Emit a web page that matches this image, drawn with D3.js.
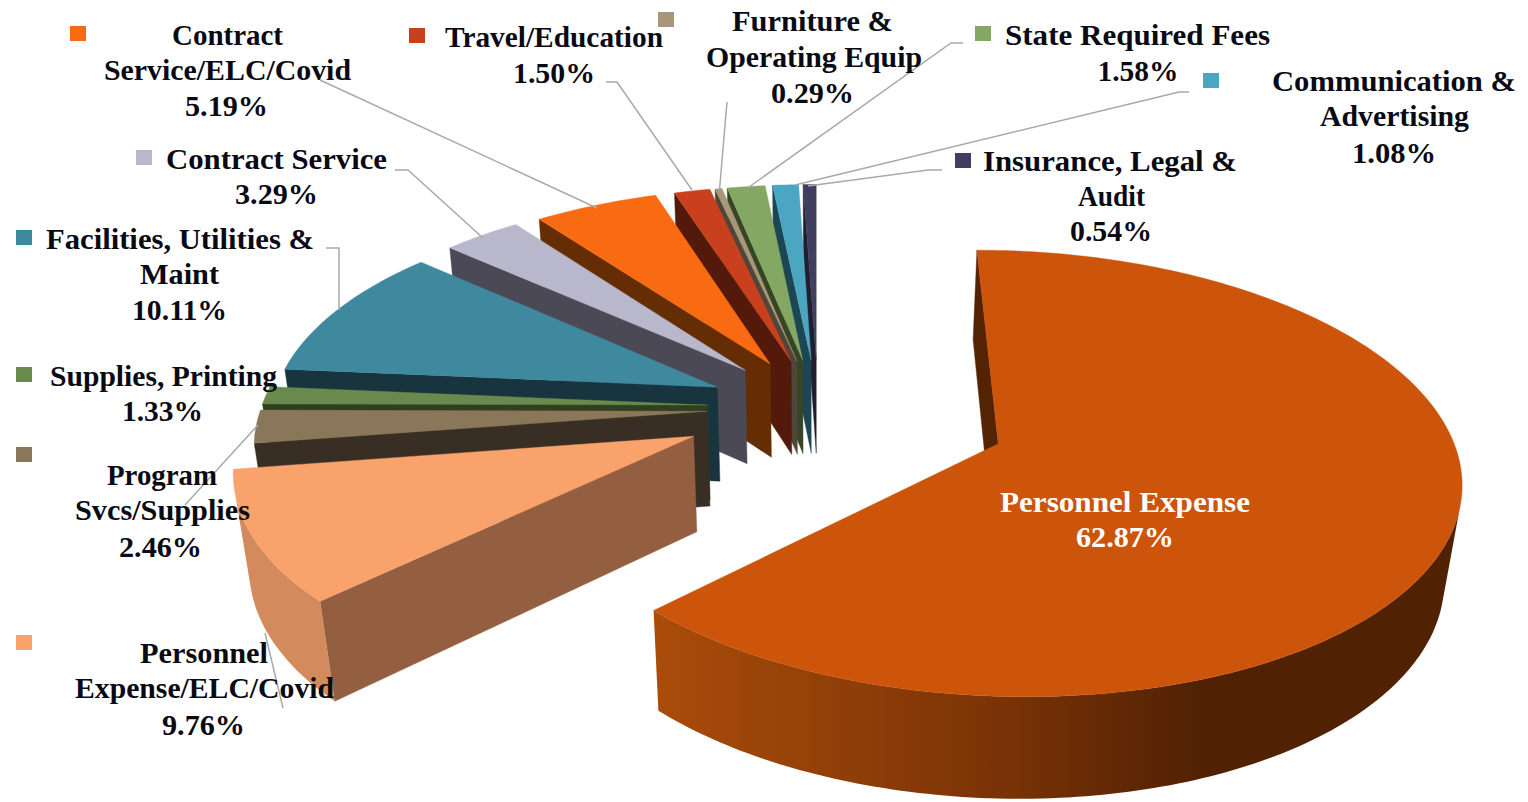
<!DOCTYPE html>
<html><head><meta charset="utf-8">
<script src="https://cdn.jsdelivr.net/npm/d3@7/dist/d3.min.js"></script>
<style>html,body{margin:0;padding:0;background:#fff;overflow:hidden}svg{display:block}</style>
</head><body><svg id="chart" width="1528" height="802"></svg>
<script>
// ---- data ----
const categories = ["Personnel Expense","Personnel Expense/ELC/Covid","Program Svcs/Supplies","Supplies, Printing","Facilities, Utilities & Maint","Contract Service","Contract Service/ELC/Covid","Travel/Education","Furniture & Operating Equip","State Required Fees","Communication & Advertising","Insurance, Legal & Audit"];
const shares = [62.87,9.76,2.46,1.33,10.11,3.29,5.19,1.50,0.29,1.58,1.08,0.54];
// ---- styles ----
const topColors  = ["#cc540b","#f9a26c","#8a775a","#6a8a4d","#3f899f","#b9b7cc","#f96b12","#c9401e","#a8987a","#84a863","#4ba6c2","#403f60"];
const wallColors = ["#532304","#935f40","#382e24","#2f3f20","#18343f","#4b4955","#652d03","#53190a","#4e4638","#364625","#1c4654","#1f1f30"];
const outerColors= ["url(#mainWall)","#d38b5e","#382e24","#2f3f20","#18343f","#4b4955","#652d03","#53190a","#4e4638","#364625","#1c4654","#1f1f30"];
const explode    = [190,135,110,110,110,109,106,104,103,103,103,103];
// ---- layout of labels: text, centre x, baseline y, width ----
const labelLines = [
 [["Personnel Expense",1125,512,250],["62.87%",1125,547,98]],
 [["Personnel",204,663,128],["Expense/ELC/Covid",204.5,698,259],["9.76%",203.5,735,83]],
 [["Program",162,485,110],["Svcs/Supplies",162.5,520,175],["2.46%",160.5,557,83]],
 [["Supplies, Printing",163.5,386,227],["1.33%",162.5,421,81]],
 [["Facilities, Utilities &",180,249,268],["Maint",179.5,284,79],["10.11%",179.5,320,95]],
 [["Contract Service",276.5,169,221],["3.29%",276.5,204,83]],
 [["Contract",227.5,45,111],["Service/ELC/Covid",227.5,80,247],["5.19%",226.5,116,83]],
 [["Travel/Education",554,47,218],["1.50%",554,83,82]],
 [["Furniture &",812.5,31,161],["Operating Equip",814,67,216],["0.29%",812.5,103,83]],
 [["State Required Fees",1137.5,45,265],["1.58%",1138,81,81]],
 [["Communication &",1394,91,244],["Advertising",1394.5,126,149],["1.08%",1394,163,84]],
 [["Insurance, Legal &",1110,171,254],["Audit",1111.5,206,67],["0.54%",1111,241,82]]
];
const legendMarks = [null,[16,635],[16,447],[16,367],[16,230],[136,150],[70,26],[409,28],[658,12],[975,26],[1203,73],[955,153]];
const leaders = [
 null,
 [[265,633],[283,708]],
 [[258,425],[185,505]],
 null,
 [[326,248],[339,248],[339,310]],
 [[395,170],[408,170],[483,238]],
 [[320,80],[597,208]],
 [[606,82],[617,82],[692,190]],
 [[727,102],[719.5,190]],
 [[963,43],[951,43],[749,187]],
 [[1189,92],[1179,92],[795,185]],
 [[942,170],[928,170],[808,186]]
];
// ---- camera ----
const R = 442, H = 138, camX = 816, yP = 400, tilt = 33.8*Math.PI/180, dist = 2848, fy = 2408, fx = 2860, cx0 = 2, cy0 = 16;
const sinA = Math.sin(tilt), cosA = Math.cos(tilt);
function project(X,Y,Z){
  const d = dist - (Y*cosA + Z*sinA);
  return [camX + fx*X/d, yP + fy*(Y*sinA - Z*cosA)/d];
}
const cam = {X:0, Y:dist*cosA, Z:dist*sinA};
const svg = d3.select("#chart");
const pieData = d3.pie().sort(null).startAngle(0).endAngle(2*Math.PI)(shares);
const lineGen = d3.line();
const closed = pts => lineGen(pts)+"Z";

const defs = svg.append("defs");
const slices = pieData.map((p,i)=>{
  const mid=(p.startAngle+p.endAngle)/2, ax=cx0+Math.sin(mid)*explode[i], ay=cy0-Math.cos(mid)*explode[i];
  const n=Math.max(2,Math.ceil((p.endAngle-p.startAngle)/(Math.PI/180)));
  const angles=d3.range(n+1).map(k=>p.startAngle+(p.endAngle-p.startAngle)*k/n);
  return {i,p,ax,ay,angles};
});
const rim=(s,t,z)=>[s.ax+R*Math.sin(t), s.ay-R*Math.cos(t), z];
const mainRimX = slices[0].angles.map(t=>project(...rim(slices[0],t,0))[0]);
const grad = defs.append("linearGradient").attr("id","mainWall").attr("gradientUnits","userSpaceOnUse")
  .attr("x1",project(...rim(slices[0],slices[0].p.endAngle,0))[0]).attr("x2",d3.max(mainRimX)).attr("y1",0).attr("y2",0);
[[0,"#aa4c0a"],[0.43,"#7a3306"],[0.68,"#502103"],[1,"#502103"]].forEach(([o,c])=>grad.append("stop").attr("offset",o).attr("stop-color",c));

const g = svg.append("g");
slices.slice().reverse().forEach(s=>{
  const i=s.i, a=s.p.startAngle, b=s.p.endAngle, sl=g.append("g");
  [[a,-1],[b,1]].forEach(([t,sgn])=>{
    const nx=sgn*Math.cos(t), ny=sgn*Math.sin(t);
    if(nx*(cam.X-s.ax)+ny*(cam.Y-s.ay)>0){
      const e=rim(s,t,0), f=rim(s,t,-H);
      sl.append("path").attr("d",closed([project(s.ax,s.ay,0),project(...e),project(...f),project(s.ax,s.ay,-H)]))
        .attr("fill",wallColors[i]).attr("stroke",wallColors[i]).attr("stroke-width",0.4);
    }
  });
  const vis=s.angles.filter(t=>{
    const r=rim(s,t,0); return Math.sin(t)*(cam.X-r[0])+(-Math.cos(t))*(cam.Y-r[1])>0;
  });
  if(vis.length>1){
    const top=vis.map(t=>project(...rim(s,t,0))), bot=vis.map(t=>project(...rim(s,t,-H))).reverse();
    sl.append("path").attr("d",closed(top.concat(bot))).attr("fill",outerColors[i]);
  }
  const face=[project(s.ax,s.ay,0)].concat(s.angles.map(t=>project(...rim(s,t,0))));
  sl.append("path").attr("d",closed(face)).attr("fill",topColors[i]).attr("stroke",topColors[i]).attr("stroke-width",0.4);
});

leaders.forEach(l=>{ if(l) svg.append("path").attr("d",lineGen(l)).attr("fill","none").attr("stroke","#a9a9a9").attr("stroke-width",1.5); });
legendMarks.forEach((m,i)=>{ if(m) svg.append("rect").attr("x",m[0]).attr("y",m[1]).attr("width",16).attr("height",15).attr("fill",topColors[i]); });
labelLines.forEach((lines,i)=>{
  lines.forEach(([txt,x,y,w])=>{
    svg.append("text").attr("x",x).attr("y",y).attr("text-anchor","middle").text(txt)
      .attr("font-family","'Liberation Serif',serif").attr("font-weight","bold").attr("font-size",30)
      .attr("textLength",w).attr("lengthAdjust","spacingAndGlyphs")
      .attr("fill",i===0?"#ffffff":"#0a0a14");
  });
});
</script></body></html>
